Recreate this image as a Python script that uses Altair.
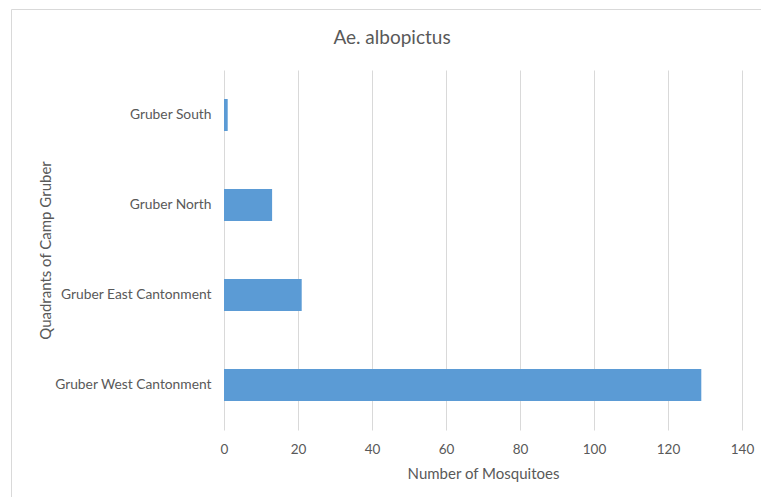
import altair as alt
import pandas as pd

# Ae. albopictus counts per quadrant of Camp Gruber
quadrants = ["Gruber South", "Gruber North", "Gruber East Cantonment", "Gruber West Cantonment"]
counts = [1, 13, 21, 129]
x_ticks = [0, 20, 40, 60, 80, 100, 120, 140]
chart_title = "Ae. albopictus"

df = pd.DataFrame({"quadrant": quadrants, "count": counts})

FONT = "Lato"
GREY_TEXT = "#595959"
GRID = "#D9D9D9"

PLOT_W = 518
PLOT_H = 360

bars = alt.Chart(df).mark_bar(color="#5B9BD5").encode(
    x=alt.X(
        "count:Q",
        scale=alt.Scale(domain=[0, 140], nice=False),
        axis=alt.Axis(
            values=x_ticks,
            title="Number of Mosquitoes",
            domain=False,
            ticks=False,
            grid=True,
            gridColor=GRID,
            labelFlush=False,
            labelFont=FONT,
            labelFontSize=13.5,
            labelColor=GREY_TEXT,
            labelPadding=12,
            titleFont=FONT,
            titleFontSize=15,
            titleFontWeight="normal",
            titleColor=GREY_TEXT,
            titleY=43,
            titleBaseline="middle",
        ),
    ),
    y=alt.Y(
        "quadrant:N",
        sort=quadrants,
        scale=alt.Scale(paddingInner=0.645, paddingOuter=0.3225),
        axis=alt.Axis(
            title="Quadrants of Camp Gruber",
            domain=False,
            ticks=False,
            grid=False,
            labelFont=FONT,
            labelFontSize=13.8,
            labelColor=GREY_TEXT,
            labelPadding=13,
            titleFont=FONT,
            titleFontSize=15,
            titleFontWeight="normal",
            titleColor=GREY_TEXT,
            titleX=-179,
            titleY=180,
            titleAngle=270,
            titleAlign="center",
            titleBaseline="middle",
        ),
    ),
)

one_row = pd.DataFrame({"label": [chart_title]})

# light border around the whole chart area
frame = alt.Chart(one_row).mark_rect(
    fill=None, stroke=GRID, strokeWidth=1
).encode(
    x=alt.value(-212.5),
    y=alt.value(-60.5),
    x2=alt.value(PLOT_W + 80),
    y2=alt.value(PLOT_H + 80),
)

# chart title, centred on the chart area
title = alt.Chart(one_row).mark_text(
    font=FONT, fontSize=19, color=GREY_TEXT, align="center", baseline="middle"
).encode(
    text="label:N",
    x=alt.value(168),
    y=alt.value(-32),
)

chart = (
    alt.layer(frame, bars, title)
    .properties(
        width=PLOT_W,
        height=PLOT_H,
        autosize=alt.AutoSizeParams(type="none"),
        padding={"left": 224, "top": 70, "right": 19, "bottom": 67},
        background="white",
    )
    .configure_view(stroke=None)
)

chart.save("out.html", embed_options={"renderer": "svg", "actions": False})
